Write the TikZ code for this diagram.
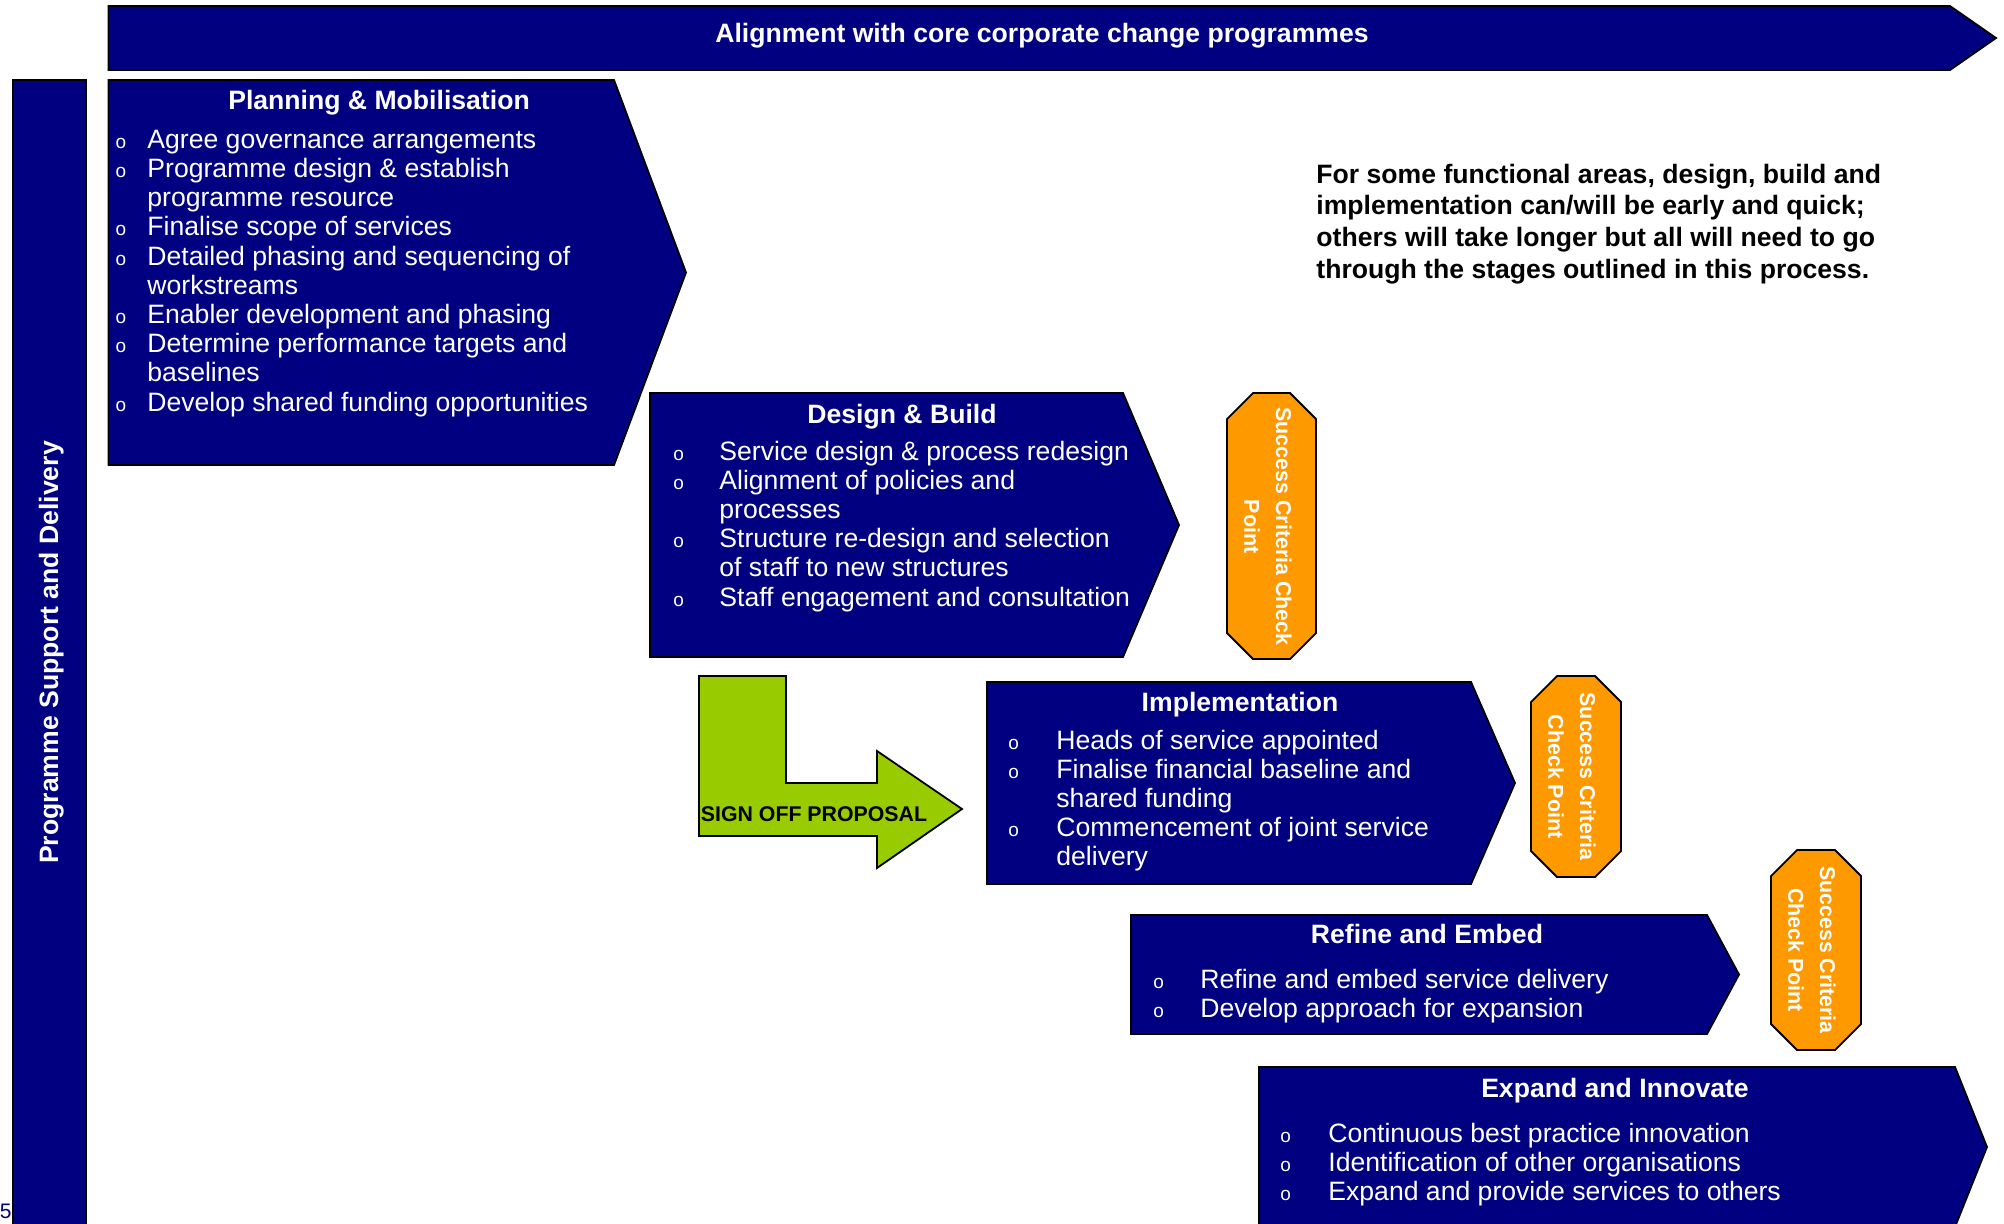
\documentclass[tikz,border=0pt]{standalone}
\usepackage{fontspec}
\setmainfont{Liberation Sans}
\definecolor{navyb}{HTML}{000080}
\definecolor{orangec}{HTML}{FF9900}
\definecolor{greenc}{HTML}{99CC00}
\newcommand\bulit[1]{\leavevmode\llap{{\fontsize{9.5}{9.5}\selectfont o}\hspace{#1}}}
\tikzset{
  navyshape/.style={fill=navyb,draw=black,line width=0.9pt,line join=miter},
  octshape/.style={fill=orangec,draw=black,line width=0.9pt},
  greenshape/.style={fill=greenc,draw=black,line width=0.9pt},
  titletext/.style={anchor=base,text=white,inner sep=0pt,font=\fontsize{13.3}{14.6}\selectfont\bfseries},
  bodytext/.style={anchor=base west,text=white,inner sep=0pt,font=\fontsize{13.3}{14.6}\selectfont},
  octtext/.style={anchor=base,rotate=-90,text=white,inner sep=0pt,font=\fontsize{10.7}{12}\selectfont\bfseries},
}
\begin{document}
\begin{tikzpicture}[x=0.5pt,y=-0.5pt]
\useasboundingbox (0,0) rectangle (2004,1223);
\fill[white] (0,0) rectangle (2004,1223);

% top banner
\path[navyshape] (108.5,6) -- (1950,6) -- (1996,38) -- (1950,70) -- (108.5,70) -- cycle;
\node[titletext] (banner) at (1042,42) {Alignment with core corporate change programmes};

% left bar
\path[navyshape] (12.7,80) rectangle (86,1240);
\node[titletext,rotate=90] (support) at (58,652.5) {Programme Support and Delivery};

% page number
\node[anchor=base east,inner sep=0pt,text=navyb,font=\fontsize{10.5}{12}\selectfont] (pagenum) at (12,1218) {5};

% Planning & Mobilisation
\path[navyshape] (108.5,80) -- (614,80) -- (686,272.5) -- (614,465) -- (108.5,465) -- cycle;
\node[titletext] (plantitle) at (379,109) {Planning \& Mobilisation};
\node[bodytext] (planbody) at (147,148.3) {\parbox[t]{600pt}{%
\bulit{10.6pt}Agree governance arrangements\\
\bulit{10.6pt}Programme design \& establish\\
programme resource\\
\bulit{10.6pt}Finalise scope of services\\
\bulit{10.6pt}Detailed phasing and sequencing of\\
workstreams\\
\bulit{10.6pt}Enabler development and phasing\\
\bulit{10.6pt}Determine performance targets and\\
baselines\\
\bulit{10.6pt}Develop shared funding opportunities}};

% Design & Build
\path[navyshape] (650,393) -- (1123,393) -- (1179,525) -- (1123,657) -- (650,657) -- cycle;
\node[titletext] (designtitle) at (902,423) {Design \& Build};
\node[bodytext] (designbody) at (719,460) {\parbox[t]{600pt}{%
\bulit{17.7pt}Service design \& process redesign\\
\bulit{17.7pt}Alignment of policies and\\
processes\\
\bulit{17.7pt}Structure re-design and selection\\
of staff to new structures\\
\bulit{17.7pt}Staff engagement and consultation}};

% Implementation
\path[navyshape] (987,682) -- (1471,682) -- (1515,783) -- (1471,884) -- (987,884) -- cycle;
\node[titletext] (impltitle) at (1240,711.5) {Implementation};
\node[bodytext] (implbody) at (1056,749) {\parbox[t]{600pt}{%
\bulit{18.7pt}Heads of service appointed\\
\bulit{18.7pt}Finalise financial baseline and\\
shared funding\\
\bulit{18.7pt}Commencement of joint service\\
delivery}};

% Refine and Embed
\path[navyshape] (1131,915) -- (1707,915) -- (1739,974.5) -- (1707,1034) -- (1131,1034) -- cycle;
\node[titletext] (refinetitle) at (1427,943) {Refine and Embed};
\node[bodytext] (refinebody) at (1200,988) {\parbox[t]{600pt}{%
\bulit{18.2pt}Refine and embed service delivery\\
\bulit{18.2pt}Develop approach for expansion}};

% Expand and Innovate
\path[navyshape] (1259,1067) -- (1955,1067) -- (1987,1147) -- (1955,1227) -- (1259,1227) -- cycle;
\node[titletext] (expandtitle) at (1615,1097.5) {Expand and Innovate};
\node[bodytext] (expandbody) at (1328,1142.5) {\parbox[t]{600pt}{%
\bulit{18.7pt}Continuous best practice innovation\\
\bulit{18.7pt}Identification of other organisations\\
\bulit{18.7pt}Expand and provide services to others}};

% Success criteria octagons
\path[octshape] (1253,393) -- (1290,393) -- (1316,419) -- (1316,633) -- (1290,659) -- (1253,659) -- (1227,633) -- (1227,419) -- cycle;
\node[octtext] (octa1) at (1276,526.5) {Success Criteria Check};
\node[octtext] (octa2) at (1244.3,526.5) {Point};

\path[octshape] (1557,676) -- (1595,676) -- (1621,702) -- (1621,851) -- (1595,877) -- (1557,877) -- (1531,851) -- (1531,702) -- cycle;
\node[octtext] (octb1) at (1580,776.5) {Success Criteria};
\node[octtext] (octb2) at (1548.3,776.5) {Check Point};

\path[octshape] (1797,850) -- (1835,850) -- (1861,876) -- (1861,1024) -- (1835,1050) -- (1797,1050) -- (1771,1024) -- (1771,876) -- cycle;
\node[octtext] (octc1) at (1820,950) {Success Criteria};
\node[octtext] (octc2) at (1788.3,950) {Check Point};

% sign off arrow
\path[greenshape] (699,676) -- (786,676) -- (786,783) -- (877,783) -- (877,751) -- (962,809) -- (877,868) -- (877,836) -- (699,836) -- cycle;
\node[anchor=base,inner sep=0pt,text=black,font=\fontsize{10.65}{12}\selectfont\bfseries] (signoff) at (814,821) {SIGN OFF PROPOSAL};

% side note
\node[anchor=base west,inner sep=0pt,text=black,font=\fontsize{13.3}{15.85}\selectfont\bfseries] (note) at (1316,183) {\parbox[t]{600pt}{%
For some functional areas, design, build and\\
implementation can/will be early and quick;\\
others will take longer but all will need to go\\
through the stages outlined in this process.}};
\end{tikzpicture}
\end{document}
